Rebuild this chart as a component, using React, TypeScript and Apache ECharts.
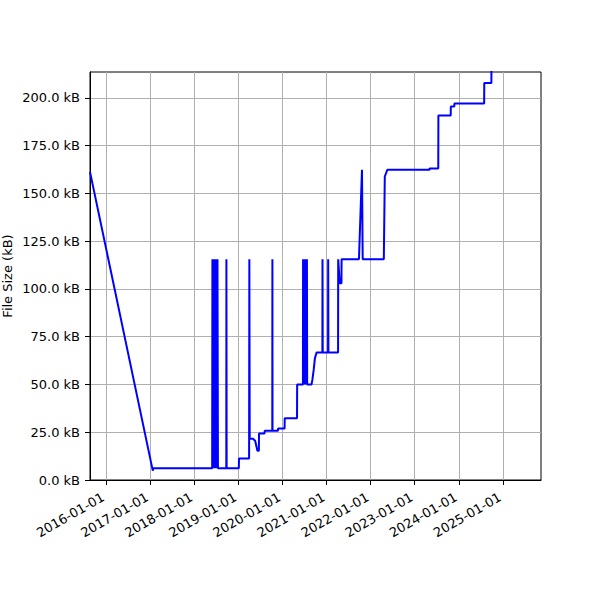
import React, { useEffect, useRef } from 'react';
import * as echarts from 'echarts';

const dates: string[] = [
  '2015-08-21', '2017-01-22', '2017-01-27', '2018-05-29',
  '2018-05-31', '2018-06-03', '2018-06-06', '2018-06-09', '2018-06-12', '2018-06-15',
  '2018-06-18', '2018-06-21', '2018-06-24', '2018-06-27', '2018-06-30', '2018-07-03',
  '2018-07-06', '2018-07-09', '2018-07-12', '2018-07-16',
  '2018-09-23', '2018-09-24', '2018-09-26',
  '2019-01-05', '2019-01-06', '2019-03-31', '2019-04-02', '2019-04-05',
  '2019-05-02', '2019-05-20', '2019-06-08', '2019-06-20', '2019-06-21',
  '2019-08-06', '2019-08-07', '2019-10-09', '2019-10-10', '2019-10-11',
  '2019-11-25', '2019-11-26', '2020-01-19', '2020-01-20',
  '2020-05-01', '2020-05-02', '2020-06-19',
  '2020-06-20', '2020-06-21', '2020-06-25', '2020-06-27', '2020-07-01', '2020-07-05',
  '2020-07-08', '2020-07-20', '2020-07-22', '2020-07-24',
  '2020-08-29', '2020-09-05', '2020-09-16', '2020-09-26', '2020-10-10',
  '2020-11-27', '2020-11-28', '2020-11-30',
  '2021-01-13', '2021-01-14', '2021-01-16',
  '2021-04-06', '2021-04-07', '2021-04-20', '2021-05-04', '2021-05-05',
  '2021-09-26', '2021-10-21', '2021-10-27',
  '2022-04-20', '2022-04-28', '2022-05-19',
  '2023-05-03', '2023-05-04', '2023-07-15', '2023-07-16',
  '2023-10-26', '2023-10-27', '2023-11-25', '2023-11-26',
  '2024-07-29', '2024-07-30', '2024-09-27', '2024-09-28', '2025-11-12',
];

const sizesKB: number[] = [
  161.3, 4.9, 6.1, 6.1,
  115.6, 6.1, 115.6, 6.1, 115.6, 6.1,
  115.6, 6.1, 115.6, 6.1, 115.6, 6.1,
  115.6, 6.1, 115.6, 6.1,
  6.1, 115.6, 6.1,
  6.1, 11.2, 11.2, 115.6, 21.6,
  21.6, 20.5, 15.3, 15.3, 24.4,
  24.4, 25.8, 25.8, 115.6, 25.8,
  25.8, 26.9, 26.9, 32.3,
  32.3, 50.0, 50.0,
  115.6, 50.0, 115.6, 50.0, 115.6, 50.0,
  115.6, 50.0, 115.6, 50.0,
  50.0, 52.4, 57.6, 63.7, 66.7,
  66.7, 115.6, 66.7,
  66.7, 115.6, 66.7,
  66.7, 115.6, 103.0, 103.0, 115.6,
  115.6, 162.4, 115.6,
  115.6, 158.9, 162.4,
  162.4, 163.1, 163.1, 190.8,
  190.8, 195.5, 195.5, 197.1,
  197.1, 207.8, 207.8, 225.0, 225.0,
];

const xTickDates: string[] = [
  '2016-01-01', '2017-01-01', '2018-01-01', '2019-01-01', '2020-01-01',
  '2021-01-01', '2022-01-01', '2023-01-01', '2024-01-01', '2025-01-01',
];
const yTicks: number[] = [0, 25, 50, 75, 100, 125, 150, 175, 200];

const X_MIN = '2015-08-21';
const X_MAX = '2025-11-12';
const Y_MAX = 213.6;

const pad = (n: number) => (n < 10 ? '0' + n : '' + n);
const fmtDate = (v: number) => {
  const d = new Date(v);
  return `${d.getUTCFullYear()}-${pad(d.getUTCMonth() + 1)}-${pad(d.getUTCDate())}`;
};

export default function App() {
  const ref = useRef<HTMLDivElement>(null);
  useEffect(() => {
    const chart = echarts.init(ref.current!, null, { renderer: 'svg' });
    const data = dates.map((d, i) => [Date.parse(d), sizesKB[i]]);
    const xTicks = xTickDates.map((d) => Date.parse(d));
    chart.setOption({
      animation: false,
      backgroundColor: '#fff',
      grid: {
        left: 90, top: 72, right: 59, bottom: 120,
        containLabel: false,
        outerBoundsMode: 'none',
        show: true, borderColor: '#000', borderWidth: 1, backgroundColor: 'transparent',
      },
      xAxis: {
        type: 'value',
        min: Date.parse(X_MIN),
        max: Date.parse(X_MAX),
        axisLine: { show: true, lineStyle: { color: '#000', width: 1 } },
        axisTick: { show: true, length: 5, lineStyle: { color: '#000', width: 1 }, customValues: xTicks },
        axisLabel: { show: false, customValues: xTicks },
        splitLine: { show: true, lineStyle: { color: '#b0b0b0', width: 1 } },
      },
      yAxis: {
        type: 'value',
        min: 0,
        max: Y_MAX,
        name: 'File Size (kB)',
        nameLocation: 'middle',
        nameGap: 76,
        nameMoveOverlap: false,
        nameTextStyle: { fontFamily: 'DejaVu Sans', fontSize: 13, color: '#000' },
        axisLine: { show: true, lineStyle: { color: '#000', width: 1 } },
        axisTick: { show: true, length: 5, lineStyle: { color: '#000', width: 1 }, customValues: yTicks },
        axisLabel: {
          fontFamily: 'DejaVu Sans', fontSize: 13, color: '#000',
          margin: 10, customValues: yTicks,
          formatter: (v: number) => v.toFixed(1) + ' kB',
        },
        splitLine: { show: true, lineStyle: { color: '#b0b0b0', width: 1 } },
      },
      series: [
        {
          type: 'line',
          data,
          showSymbol: false,
          symbol: 'none',
          clip: true,
          lineStyle: { color: '#0000ff', width: 2 },
          itemStyle: { color: '#0000ff' },
        },
      ],
    });
    // x tick labels, positioned through the axis scale, rotated 30° like matplotlib's autofmt_xdate
    const baseY = chart.convertToPixel({ gridIndex: 0 }, [xTicks[0], 0])[1];
    const labels = xTicks.map((t) => {
      const px = chart.convertToPixel({ gridIndex: 0 }, [t, 0])[0];
      return {
        type: 'text',
        x: px - 3,
        y: baseY + 16,
        rotation: Math.PI / 6,
        silent: true,
        style: {
          text: fmtDate(t),
          align: 'right',
          verticalAlign: 'middle',
          fontFamily: 'DejaVu Sans',
          fontSize: 13,
          fill: '#000',
        },
      };
    });
    chart.setOption({ graphic: labels });
    return () => chart.dispose();
  }, []);
  return (
    <div
      ref={ref}
      style={{ position: 'fixed', left: 0, top: 0, width: 600, height: 600, background: '#fff' }}
    />
  );
}
